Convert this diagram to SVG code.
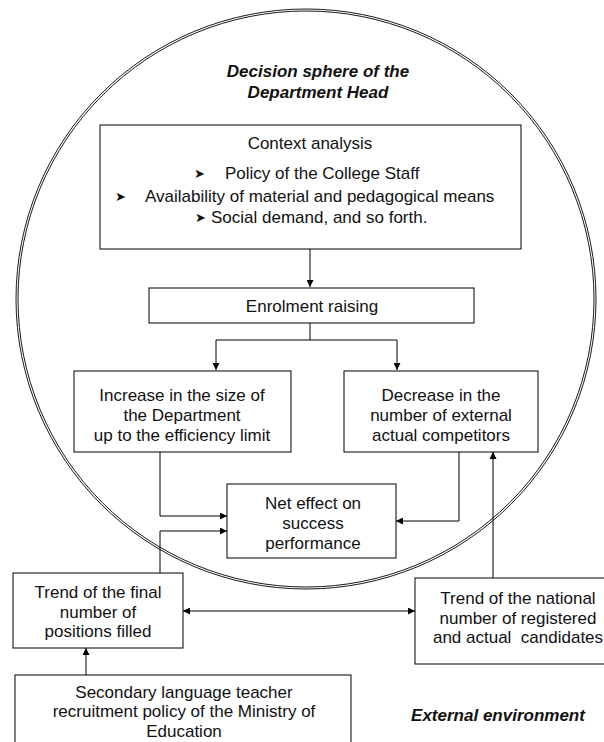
<svg xmlns="http://www.w3.org/2000/svg" width="604" height="742" viewBox="0 0 604 742">
<style>
.box{fill:#fff;stroke:#000;stroke-width:1}
.t{font-family:"Liberation Sans",Arial,sans-serif;font-size:17px;fill:#111;text-anchor:middle}
.tl{font-family:"Liberation Sans",Arial,sans-serif;font-size:17px;fill:#111}
.bi{font-family:"Liberation Sans",Arial,sans-serif;font-size:17px;font-weight:bold;font-style:italic;fill:#111;text-anchor:middle}
.bul{font-family:"DejaVu Sans",sans-serif;font-size:13px;fill:#111}
.c{fill:none;stroke:#000;stroke-width:1}
.ring{fill:none;stroke:#000;stroke-width:0.9}
</style>
<defs>
<marker id="ah" viewBox="0 0 10 10" refX="10" refY="5" markerWidth="8" markerHeight="7" markerUnits="userSpaceOnUse" orient="auto-start-reverse">
<path d="M0,0 L10,5 L0,10 z" fill="#000"/>
</marker>
</defs>
<rect width="604" height="742" fill="#fff"/>
<g id="sphere">
<circle class="ring" cx="306" cy="299" r="290"/>
<circle class="ring" cx="306" cy="299" r="288"/>
<text class="bi" x="318" y="77">Decision sphere of the</text>
<text class="bi" x="318" y="98">Department Head</text>
</g>
<g id="connectors">
<line class="c" x1="310" y1="249" x2="310" y2="287" marker-end="url(#ah)"/>
<polyline class="c" points="310,323 310,340 216,340 216,370" marker-end="url(#ah)"/>
<polyline class="c" points="310,340 397,340 397,370" marker-end="url(#ah)"/>
<polyline class="c" points="160,452 160,516 227,516" marker-end="url(#ah)"/>
<polyline class="c" points="459,452 459,521 396,521" marker-end="url(#ah)"/>
<polyline class="c" points="160,573 160,531 227,531" marker-end="url(#ah)"/>
<line class="c" x1="493" y1="578" x2="493" y2="452" marker-end="url(#ah)"/>
<line class="c" x1="183" y1="611" x2="415" y2="611" marker-start="url(#ah)" marker-end="url(#ah)"/>
<line class="c" x1="86" y1="675" x2="86" y2="648" marker-end="url(#ah)"/>
</g>
<g id="context">
<rect class="box" x="100" y="125" width="421" height="124"/>
<text class="t" x="310" y="149">Context analysis</text>
<text class="bul" x="194" y="178">➤</text>
<text class="tl" x="225" y="179">Policy of the College Staff</text>
<text class="bul" x="115" y="201">➤</text>
<text class="tl" x="145" y="202">Availability of material and pedagogical means</text>
<text class="bul" x="195" y="222">➤</text>
<text class="tl" x="211" y="223">Social demand, and so forth.</text>
</g>
<g id="enrolment">
<rect class="box" x="149" y="288" width="325" height="35"/>
<text class="t" x="312" y="312">Enrolment raising</text>
</g>
<g id="increase">
<rect class="box" x="74" y="371" width="217" height="81"/>
<text class="t" x="182" y="401">Increase in the size of</text>
<text class="t" x="182" y="421">the Department</text>
<text class="t" x="182" y="441">up to the efficiency limit</text>
</g>
<g id="decrease">
<rect class="box" x="344" y="371" width="194" height="81"/>
<text class="t" x="441" y="401">Decrease in the</text>
<text class="t" x="441" y="421">number of external</text>
<text class="t" x="441" y="441">actual competitors</text>
</g>
<g id="neteffect">
<rect class="box" x="227" y="484" width="169" height="74"/>
<text class="t" x="313" y="509">Net effect on</text>
<text class="t" x="313" y="529">success</text>
<text class="t" x="313" y="549">performance</text>
</g>
<g id="trendfinal">
<rect class="box" x="13" y="573" width="170" height="75"/>
<text class="t" x="98" y="598">Trend of the final</text>
<text class="t" x="98" y="618">number of</text>
<text class="t" x="98" y="637">positions filled</text>
</g>
<g id="trendnational">
<rect class="box" x="415" y="578" width="210" height="86"/>
<text class="t" x="518" y="604">Trend of the national</text>
<text class="t" x="518" y="624">number of registered</text>
<text class="t" x="518" y="643" xml:space="preserve">and actual  candidates</text>
</g>
<g id="ministry">
<rect class="box" x="15" y="675" width="336" height="80"/>
<text class="t" x="184" y="698">Secondary language teacher</text>
<text class="t" x="184" y="717">recruitment policy of the Ministry of</text>
<text class="t" x="184" y="737">Education</text>
</g>
<g id="external">
<text class="bi" x="498" y="721">External environment</text>
</g>
</svg>
